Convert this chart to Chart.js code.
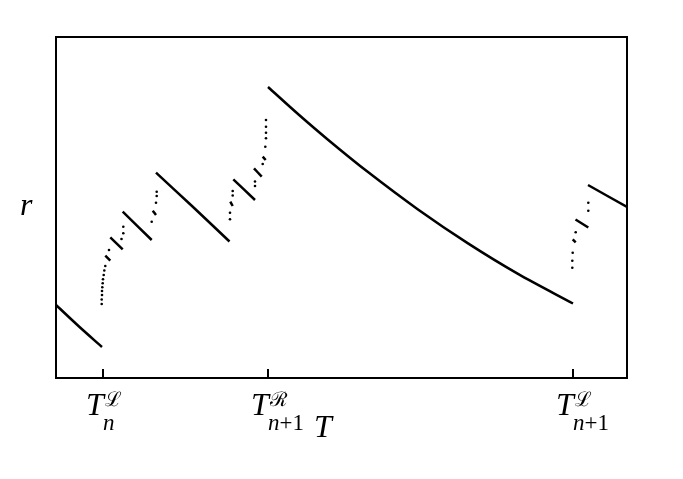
<!DOCTYPE html>
<html>
<head>
<meta charset="utf-8">
<script src="https://cdn.jsdelivr.net/npm/chart.js@4/dist/chart.umd.min.js"></script>
<style>
html,body{margin:0;padding:0;background:#fff;}
#wrap{width:683px;height:479px;position:relative;}
</style>
</head>
<body>
<div id="wrap"><canvas id="c"></canvas></div>
<script>
// Axis ranges (T horizontal, r vertical), arbitrary units
const tRange = [0, 571];
const rRange = [0, 341];

// Tick positions and labels
const tickValues = [47, 212, 517];
const tickBase = ['T', 'T', 'T'];
const tickSubs = ['n', 'n+1', 'n+1'];
const tickSups = ['\u2112', '\u211B', '\u2112'];

// Continuous branches of r(T)
const branch1 = [[0,73],[23,51.5],[46,31]];
const branch2 = [[49.3,122.3],[54.3,117.3]];
const branch3 = [[54.3,140.7],[66.7,128.7]];
const branch4 = [[66.7,166.3],[95.7,138]];
const branch5 = [[96.7,167.3],[100,163]];
const branch6 = [[100,205.3],[136,172],[173.5,136.5]];
const branch7 = [[174.3,176.3],[176.7,172]];
const branch8 = [[177.3,198.7],[199,178]];
const branch9 = [[198,209.7],[205.7,201.3]];
const branch10 = [[206.7,221.3],[209.7,218]];
const branch11 = [[212,291],[242,264],[272,238.3],[312,205.9],[362,168.5],[412,134.6],[462,104.1],[517,74.5]];
const branch12 = [[516.7,138.7],[519.7,135.7]];
const branch13 = [[519.5,158.5],[532.3,150.5]];
const branch14 = [[532,193],[571,171]];

// Isolated points (dotted accumulations)
const dotsT = [45.7,45.7,46,46,46.3,46.7,47,47.7,48.3,49.3,53,
               65.5,67.3,67.3,
               95.7,100,100.7,100.7,
               174,174,176.7,176.7,
               199,199,206.7,
               209.3,210,210,210,210,
               516.3,516.3,516.7,519.7,532.3,532.3];
const dotsR = [74,78.5,83,87,90.7,94.7,98.7,103,107.5,112,128,
               139,144.7,151.3,
               156.3,175.3,182,186.3,
               158.7,165.3,182.5,187,
               192,196.5,214,
               231.3,239.7,245.3,251.3,258,
               110.3,117.3,125.3,145.7,167.3,175.3];

const branches = [branch1,branch2,branch3,branch4,branch5,branch6,branch7,branch8,branch9,branch10,branch11,branch12,branch13,branch14];

const datasets = branches.map(b => ({
  data: b.map(p => ({x:p[0], y:p[1]})),
  showLine: true,
  borderColor: '#000',
  borderWidth: 2.5,
  pointRadius: 0,
  tension: 0.3,
  fill: false
}));
datasets.push({
  data: dotsT.map((t,i) => ({x:t, y:dotsR[i]})),
  showLine: false,
  pointRadius: 1.3,
  pointBorderWidth: 0,
  pointBackgroundColor: '#000',
  borderColor: '#000'
});

const serif = "'Liberation Serif','DejaVu Serif',serif";
const frame = {
  id: 'frame',
  afterDraw(chart) {
    const ctx = chart.ctx, a = chart.chartArea, xs = chart.scales.x;
    ctx.save();
    ctx.strokeStyle = '#000';
    ctx.lineWidth = 2;
    ctx.strokeRect(a.left, a.top, a.right - a.left, a.bottom - a.top);
    ctx.fillStyle = '#000';
    ctx.textBaseline = 'alphabetic';
    ctx.textAlign = 'left';
    tickValues.forEach((v,i) => {
      const px = Math.round(xs.getPixelForValue(v));
      ctx.beginPath();
      ctx.moveTo(px, a.bottom);
      ctx.lineTo(px, a.bottom - 9);
      ctx.lineWidth = 2;
      ctx.stroke();
      const left = px - 17;
      ctx.font = 'italic 32px ' + serif;
      ctx.fillText(tickBase[i], left, 415);
      ctx.font = '20px ' + serif;
      ctx.fillText(tickSups[i], left + 19, 406);
      let sx = left + 17;
      const sub = tickSubs[i];
      ctx.font = 'italic 23px ' + serif;
      ctx.fillText(sub[0], sx, 430);
      sx += ctx.measureText(sub[0]).width;
      if (sub.length > 1) {
        ctx.font = '23px ' + serif;
        ctx.fillText(sub.slice(1), sx, 430);
      }
    });
    ctx.font = 'italic 32px ' + serif;
    ctx.fillText('T', 314, 437);
    ctx.font = 'italic 32px ' + serif;
    ctx.fillText('r', 20, 215);
    ctx.restore();
  }
};

new Chart(document.getElementById('c'), {
  type: 'scatter',
  data: { datasets },
  options: {
    responsive: true,
    maintainAspectRatio: false,
    animation: false,
    layout: { padding: { left: 56, top: 37, right: 56, bottom: 101 } },
    plugins: { legend: { display: false }, tooltip: { enabled: false } },
    scales: {
      x: { type: 'linear', min: tRange[0], max: tRange[1], display: false },
      y: { type: 'linear', min: rRange[0], max: rRange[1], display: false }
    }
  },
  plugins: [frame]
});
</script>
</body>
</html>
